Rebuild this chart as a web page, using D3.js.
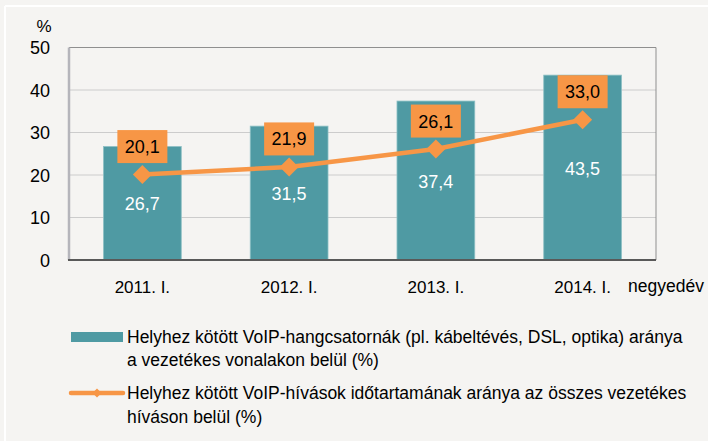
<!DOCTYPE html>
<html>
<head>
<meta charset="utf-8">
<script src="https://cdn.jsdelivr.net/npm/d3@7"></script>
<style>
  html, body { margin: 0; padding: 0; background: #f5f4f2; }
  text { font-family: "Liberation Sans", Arial, sans-serif; }
</style>
</head>
<body>
<div id="canvas"></div>
<script>
"use strict"

let svgWidth = 708;
let svgHeight = 441;

/* data */
let categories = ["2011. I.", "2012. I.", "2013. I.", "2014. I."];
let channelShare = [26.7, 31.5, 37.4, 43.5];   // bars
let durationShare = [20.1, 21.9, 26.1, 33.0];  // line
let yTicks = [0, 10, 20, 30, 40, 50];
let legendLabels = [
    ["Helyhez kötött VoIP-hangcsatornák (pl. kábeltévés, DSL, optika) aránya",
     "a vezetékes vonalakon belül (%)"],
    ["Helyhez kötött VoIP-hívások időtartamának aránya az összes vezetékes",
     "híváson belül (%)"]
];

let teal = "#4f9aa3";
let orange = "#f79646";

let plotLeft = 69, plotRight = 656, plotTop = 47.5, plotBottom = 260;

let fmt = function (v) { return v.toFixed(1).replace(".", ","); };

let svg = d3.select("#canvas")
    .append("svg")
    .attr("width", svgWidth)
    .attr("height", svgHeight);

/* background + thin white frame lines */
svg.append("rect")
    .attr("width", svgWidth)
    .attr("height", svgHeight)
    .attr("fill", "#f5f4f2");

svg.append("line")
    .attr("x1", 5).attr("x2", svgWidth)
    .attr("y1", 6).attr("y2", 6)
    .attr("stroke", "#ffffff")
    .attr("stroke-width", 2);

svg.append("line")
    .attr("x1", 5).attr("x2", 5)
    .attr("y1", 6).attr("y2", svgHeight)
    .attr("stroke", "#ffffff")
    .attr("stroke-width", 2);

/* scales */
let xScale = d3.scaleBand()
    .domain(categories)
    .range([plotLeft, plotRight])
    .paddingInner(0.47)
    .paddingOuter(0.235);

let yScale = d3.scaleLinear()
    .domain([0, 50])
    .range([plotBottom, plotTop]);

let cx = function (c) { return xScale(c) + xScale.bandwidth() / 2; };

/* gridlines */
svg.selectAll("line.grid")
    .data(yTicks.filter(function (t) { return t > 0 && t < 50; }))
    .join("line")
    .attr("class", "grid")
    .attr("x1", plotLeft).attr("x2", plotRight)
    .attr("y1", function (d) { return yScale(d); })
    .attr("y2", function (d) { return yScale(d); })
    .attr("stroke", "#cccccc")
    .attr("stroke-width", 1);

/* plot frame: top and right */
svg.append("path")
    .attr("d", "M" + plotLeft + "," + yScale(50) + "H" + plotRight + "V" + plotBottom)
    .attr("fill", "none")
    .attr("stroke", "#8f8f8f")
    .attr("stroke-width", 1);

/* bars */
svg.selectAll("rect.bar")
    .data(channelShare)
    .join("rect")
    .attr("class", "bar")
    .attr("x", function (d, i) { return xScale(categories[i]); })
    .attr("y", function (d) { return yScale(d); })
    .attr("width", xScale.bandwidth())
    .attr("height", function (d) { return yScale(0) - yScale(d); })
    .attr("fill", teal)
    .attr("stroke", "#8ec0c5")
    .attr("stroke-width", 0.8);

/* left axis line */
svg.append("line")
    .attr("x1", plotLeft).attr("x2", plotLeft)
    .attr("y1", yScale(50)).attr("y2", plotBottom)
    .attr("stroke", "#b5b5bb")
    .attr("stroke-width", 2.5);

/* bottom axis line */
svg.append("line")
    .attr("x1", plotLeft - 1).attr("x2", plotRight)
    .attr("y1", plotBottom).attr("y2", plotBottom)
    .attr("stroke", "#595959")
    .attr("stroke-width", 2);

/* bar value labels */
svg.selectAll("text.barLabel")
    .data(channelShare)
    .join("text")
    .attr("class", "barLabel")
    .attr("x", function (d, i) { return cx(categories[i]); })
    .attr("y", function (d) { return (yScale(d) + yScale(0)) / 2 + 7; })
    .attr("text-anchor", "middle")
    .attr("fill", "#ffffff")
    .attr("font-size", "18px")
    .text(fmt);

/* line */
let line = d3.line()
    .x(function (d, i) { return cx(categories[i]); })
    .y(function (d) { return yScale(d); });

svg.append("path")
    .datum(durationShare)
    .attr("d", line)
    .attr("fill", "none")
    .attr("stroke", orange)
    .attr("stroke-width", 4.5)
    .attr("stroke-linejoin", "round");

svg.selectAll("path.marker")
    .data(durationShare)
    .join("path")
    .attr("class", "marker")
    .attr("transform", function (d, i) {
        return "translate(" + cx(categories[i]) + "," + yScale(d) + ")";
    })
    .attr("d", "M0,-9.5L9.5,0L0,9.5L-9.5,0Z")
    .attr("fill", orange);

/* orange value boxes */
svg.selectAll("rect.lineBox")
    .data(durationShare)
    .join("rect")
    .attr("class", "lineBox")
    .attr("x", function (d, i) { return cx(categories[i]) - 25; })
    .attr("y", function (d) { return yScale(d) - 44.5; })
    .attr("width", 50)
    .attr("height", 33)
    .attr("fill", orange);

svg.selectAll("text.lineLabel")
    .data(durationShare)
    .join("text")
    .attr("class", "lineLabel")
    .attr("x", function (d, i) { return cx(categories[i]); })
    .attr("y", function (d) { return yScale(d) - 21.5; })
    .attr("text-anchor", "middle")
    .attr("fill", "#000000")
    .attr("font-size", "18px")
    .text(fmt);

/* y tick labels */
svg.selectAll("text.yTick")
    .data(yTicks)
    .join("text")
    .attr("class", "yTick")
    .attr("x", 50)
    .attr("y", function (d) { return yScale(d) + 6.5; })
    .attr("text-anchor", "end")
    .attr("fill", "#000000")
    .attr("font-size", "18px")
    .text(function (d) { return String(d); });

svg.append("text")
    .attr("x", 44)
    .attr("y", 32)
    .attr("text-anchor", "middle")
    .attr("font-size", "17px")
    .text("%");

/* x tick labels */
svg.selectAll("text.xTick")
    .data(categories)
    .join("text")
    .attr("class", "xTick")
    .attr("x", function (d) { return cx(d); })
    .attr("y", 293)
    .attr("text-anchor", "middle")
    .attr("font-size", "17px")
    .text(function (d) { return d; });

svg.append("text")
    .attr("x", 628)
    .attr("y", 292)
    .attr("font-size", "17.5px")
    .text("negyedév");

/* legend */
svg.append("rect")
    .attr("x", 71)
    .attr("y", 332)
    .attr("width", 52)
    .attr("height", 10)
    .attr("fill", teal);

svg.append("line")
    .attr("x1", 71).attr("x2", 123)
    .attr("y1", 393).attr("y2", 393)
    .attr("stroke", orange)
    .attr("stroke-width", 4.5)
    .attr("stroke-linecap", "round");

svg.append("path")
    .attr("transform", "translate(97,393)")
    .attr("d", "M0,-4.5L4.5,0L0,4.5L-4.5,0Z")
    .attr("fill", orange);

let legendBaselines = [[343, 366], [399, 423]];

legendLabels.forEach(function (lines, i) {
    lines.forEach(function (txt, j) {
        svg.append("text")
            .attr("x", 127)
            .attr("y", legendBaselines[i][j])
            .attr("font-size", "17.5px")
            .text(txt);
    });
});
</script>
</body>
</html>
